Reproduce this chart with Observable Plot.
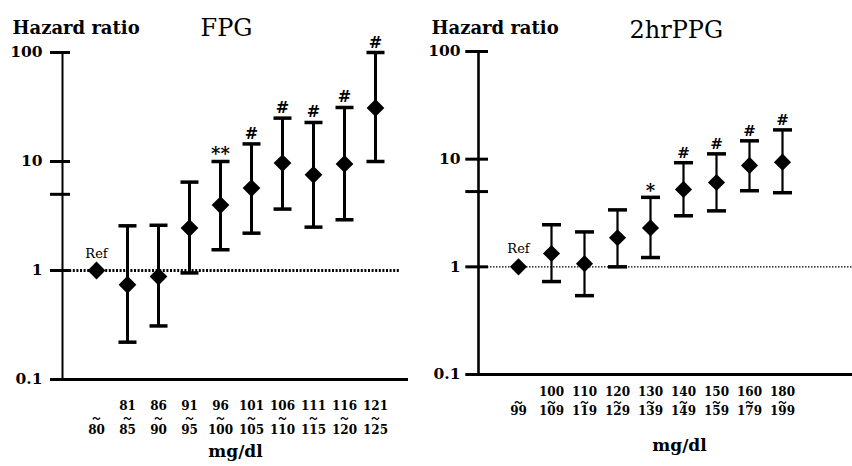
<!DOCTYPE html>
<html><head><meta charset="utf-8">
<script src="https://cdn.jsdelivr.net/npm/d3@7"></script>
<script src="https://cdn.jsdelivr.net/npm/@observablehq/plot@0.6"></script>
<style>
body{margin:0;background:#fff;}
#wrap{display:flex;width:852px;height:466px;overflow:hidden;}
</style></head><body><div id="wrap"></div>
<script>
// ---- data ----
const yTicks = [0.1, 1, 5, 10, 100];
const yTickLabels = ["0.1", "1", "5", "10", "100"];

const fpgTitle = "FPG";
const fpgLow  = ["", "81", "86", "91", "96", "101", "106", "111", "116", "121"];
const fpgHigh = ["80", "85", "90", "95", "100", "105", "110", "115", "120", "125"];
const fpgHR   = [1, 0.74, 0.88, 2.45, 3.98, 5.7, 9.67, 7.55, 9.5, 31];
const fpgLo   = [null, 0.22, 0.31, 0.95, 1.55, 2.2, 3.66, 2.5, 2.92, 10];
const fpgHi   = [null, 2.57, 2.6, 6.47, 10, 14.5, 25, 22.8, 31.3, 100];
const fpgSig  = ["", "", "", "", "**", "#", "#", "#", "#", "#"];

const ppgTitle = "2hrPPG";
const ppgLow  = ["", "100", "110", "120", "130", "140", "150", "160", "180"];
const ppgHigh = ["99", "109", "119", "129", "139", "149", "159", "179", "199"];
const ppgHR   = [1, 1.33, 1.07, 1.86, 2.3, 5.24, 6.07, 8.75, 9.38];
const ppgLo   = [null, 0.73, 0.54, 1.0, 1.22, 2.98, 3.31, 5.09, 4.88];
const ppgHi   = [null, 2.46, 2.11, 3.38, 4.42, 9.27, 11.2, 14.8, 18.7];
const ppgSig  = ["", "", "", "", "*", "#", "#", "#", "#"];

const yLabel = "Hazard ratio";
const xLabel = "mg/dl";
const refLabel = "Ref";

// horizontal line symbol (error-bar caps)
const hSymbol = {
  draw(ctx, size) {
    const w = Math.sqrt(size / Math.PI);
    ctx.moveTo(-w, 0);
    ctx.lineTo(w, 0);
  }
};
// small wave (range separator drawn above the upper bound)
const waveSymbol = {
  draw(ctx, size) {
    const w = Math.sqrt(size / Math.PI), a = w * 0.55;
    ctx.moveTo(-w, a * 0.4);
    ctx.quadraticCurveTo(-w / 2, -a, 0, 0);
    ctx.quadraticCurveTo(w / 2, a, w, -a * 0.4);
  }
};

function panel(c) {
  const rows = c.high.map((h, i) => ({cat: h, range: c.low[i] + "\n" + h, hr: c.hr[i], lo: c.lo[i], hi: c.hi[i], sig: c.sig[i]}));
  const bars = rows.filter(d => d.lo != null);
  const hash = rows.filter(d => d.sig === "#");
  const star = rows.filter(d => d.sig.startsWith("*"));
  const fw = 426 - c.ml - c.mr;
  return Plot.plot({
    width: 426, height: 466,
    marginLeft: c.ml, marginTop: c.mt, marginRight: c.mr, marginBottom: c.mb,
    x: {type: "point", domain: c.high, range: c.xRange, axis: null},
    y: {type: "log", domain: [0.1, 100], axis: null},
    style: {fontFamily: "'DejaVu Serif', serif", fontWeight: "bold", fontSize: "15px", background: "white", color: "black", overflow: "visible"},
    marks: [
      Plot.ruleY([1], {stroke: "black", strokeWidth: c.dotW, strokeDasharray: c.dotDash, insetRight: c.dotInset}),
      Plot.ruleY([0.1], {stroke: "black", strokeWidth: 3.2}),
      Plot.frame({anchor: "left", stroke: "black", strokeWidth: c.axW}),
      Plot.ruleY(yTicks, {stroke: "black", strokeWidth: 3, insetLeft: -c.tickOut, insetRight: fw - c.tickIn}),
      Plot.axisY({ticks: yTicks, tickFormat: d => yTickLabels[yTicks.indexOf(d)], tickSize: 0, tickPadding: c.tickPad, fontSize: 15.5, label: null}),
      Plot.ruleX(bars, {x: "cat", y1: "lo", y2: "hi", stroke: "black", strokeWidth: c.barW}),
      Plot.dot(bars, {x: "cat", y: "lo", symbol: hSymbol, r: c.cap, fill: "none", stroke: "black", strokeWidth: 3.5}),
      Plot.dot(bars, {x: "cat", y: "hi", symbol: hSymbol, r: c.cap, fill: "none", stroke: "black", strokeWidth: 3.5}),
      Plot.dot(rows, {x: "cat", y: "hr", symbol: "diamond2", r: c.r, fill: "black", stroke: "none"}),
      Plot.text(hash, {x: "cat", y: "hi", text: "sig", lineAnchor: "bottom", dy: -5, fontSize: c.sigSize}),
      Plot.text(star, {x: "cat", y: "hi", text: "sig", lineAnchor: "bottom", dy: c.starDy, fontSize: 18}),
      Plot.text(rows.slice(0, 1), {x: "cat", y: "hr", text: () => refLabel, lineAnchor: "bottom", dy: c.refDy, fontSize: 13, fontWeight: "normal"}),
      Plot.text(rows, {x: "cat", text: "range", frameAnchor: "bottom", lineAnchor: "bottom", dy: c.highDy, fontSize: 12, lineHeight: c.lh}),
      Plot.dot(rows, {x: "cat", frameAnchor: "bottom", dy: c.tilDy, symbol: waveSymbol, r: 3.6, fill: "none", stroke: "black", strokeWidth: 1.3}),
      Plot.text([xLabel], {frameAnchor: "bottom", lineAnchor: "bottom", dx: c.xlDx, dy: c.xlDy, fontSize: 17}),
      Plot.text([yLabel], {frameAnchor: "top-left", textAnchor: "start", lineAnchor: "bottom", dx: c.ylDx, dy: c.ylDy, fontSize: 18}),
      Plot.text([c.title], {frameAnchor: "top-left", textAnchor: "start", lineAnchor: "bottom", dx: c.tDx, dy: c.tDy, fontSize: 24, fontWeight: "normal"})
    ]
  });
}

const wrap = document.getElementById("wrap");
wrap.appendChild(panel({
  title: fpgTitle, low: fpgLow, high: fpgHigh, hr: fpgHR, lo: fpgLo, hi: fpgHi, sig: fpgSig,
  ml: 62, mt: 52, mr: 18, mb: 87, xRange: [80, 390],
  dotW: 3, dotDash: "2,1.6", dotInset: 8, axW: 2,
  tickOut: 12, tickIn: 8, tickPad: 20,
  barW: 3, cap: 9, r: 8, sigSize: 16, starDy: -2, refDy: -13,
  highDy: 54, lh: 1.92, tilDy: 39, xlDx: 0, xlDy: 77,
  ylDx: -50, ylDy: -19, tDx: 138, tDy: -17
}));
wrap.appendChild(panel({
  title: ppgTitle, low: ppgLow, high: ppgHigh, hr: ppgHR, lo: ppgLo, hi: ppgHi, sig: ppgSig,
  ml: 52, mt: 51, mr: 0, mb: 92, xRange: [73, 375],
  dotW: 1.2, dotDash: "1.5,1.5", dotInset: 0, axW: 2.6,
  tickOut: 12.7, tickIn: 10, tickPad: 18,
  barW: 2.2, cap: 9.5, r: 7.7, sigSize: 15, starDy: 0, refDy: -14,
  highDy: 40, lh: 1.58, tilDy: 28, xlDx: 14, xlDy: 76,
  ylDx: -47, ylDy: -18, tDx: 151, tDy: -14
}));
</script></body></html>
